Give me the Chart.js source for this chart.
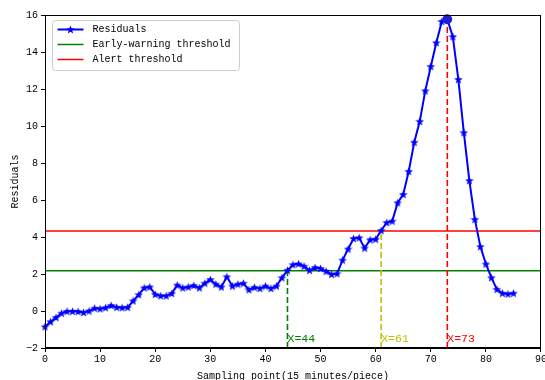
<!DOCTYPE html>
<html>
<head>
<meta charset="utf-8">
<script src="https://cdn.jsdelivr.net/npm/chart.js@4/dist/chart.umd.min.js"></script>
<style>
  html, body { margin: 0; padding: 0; background: #fff; overflow: hidden; }
  #wrap { width: 545px; height: 380px; overflow: hidden; }
</style>
</head>
<body>
<div id="wrap"><canvas id="chart" width="548" height="380"></canvas></div>
<script>
// Residual of each sampling point (one point every 15 minutes)
const residuals = [
  -0.85, -0.58, -0.35, -0.12, -0.02, -0.02, -0.03, -0.08, 0.00, 0.15,
   0.12,  0.18,  0.30,  0.20,  0.18,  0.20,  0.55,  0.88, 1.25, 1.30,
   0.90,  0.82,  0.82,  0.95,  1.40,  1.25,  1.30,  1.38, 1.25, 1.50,
   1.70,  1.45,  1.30,  1.85,  1.35,  1.45,  1.50,  1.15, 1.28, 1.22,
   1.35,  1.22,  1.35,  1.80,  2.20,  2.50,  2.55,  2.42, 2.20, 2.35,
   2.30,  2.15,  1.98,  2.02,  2.75,  3.35,  3.92,  3.96, 3.40, 3.85,
   3.88,  4.35,  4.78,  4.86,  5.85,  6.30,  7.55,  9.12, 10.25, 11.90,
  13.22, 14.50, 15.65, 15.77, 14.83, 12.52,  9.64,  7.05, 4.95, 3.48,
   2.54,  1.80,  1.17,  0.96,  0.92,  0.96
];
const samplePoints = residuals.map((_, i) => i);

// Threshold levels
const earlyWarningThreshold = 2.18;
const alertThreshold = 4.33;

// Marked sampling points: early warning, alert, peak
const markedPoints = [44, 61, 73];
const markedLabels = ['X=44', 'X=61', 'X=73'];
const markedColors = ['#008000', '#bfbf00', '#ff0000'];

// Axis ranges and tick steps
const xRange = [0, 90];
const yRange = [-2, 16];
const xStep = 10;
const yStep = 2;

// Filled five-pointed star used as the residual marker
function makeStar(size, color) {
  const c = document.createElement('canvas');
  c.width = size; c.height = size;
  const g = c.getContext('2d');
  const cx = size / 2, cy = size / 2 + 0.4, R = size / 2, r = R * 0.42;
  g.beginPath();
  for (let k = 0; k < 10; k++) {
    const rad = k % 2 === 0 ? R : r;
    const a = -Math.PI / 2 + k * Math.PI / 5;
    const px = cx + rad * Math.cos(a), py = cy + rad * Math.sin(a);
    k === 0 ? g.moveTo(px, py) : g.lineTo(px, py);
  }
  g.closePath();
  g.fillStyle = color;
  g.fill();
  return c;
}
const starMarker = makeStar(9, '#0000ff');

const FONT = '"Liberation Mono", "DejaVu Sans Mono", monospace';

const residualData = samplePoints.map(i => ({ x: i, y: residuals[i] }));
const peakIndex = markedPoints[2];

const datasets = [
  {
    label: 'Residuals',
    data: residualData,
    borderColor: '#0000ff',
    backgroundColor: '#0000ff',
    borderWidth: 2,
    pointStyle: starMarker,
    pointRadius: 4,
    tension: 0,
    clip: false,
    legend: { marker: true },
    order: 1
  },
  {
    label: 'Early-warning threshold',
    data: [{ x: xRange[0], y: earlyWarningThreshold }, { x: xRange[1], y: earlyWarningThreshold }],
    borderColor: '#008000',
    borderWidth: 1.5,
    pointRadius: 0,
    legend: { marker: false },
    order: 3
  },
  {
    label: 'Alert threshold',
    data: [{ x: xRange[0], y: alertThreshold }, { x: xRange[1], y: alertThreshold }],
    borderColor: '#ff0000',
    borderWidth: 1.5,
    pointRadius: 0,
    legend: { marker: false },
    order: 3
  },
  {
    label: 'peak',
    data: [{ x: peakIndex, y: residuals[peakIndex] }],
    borderColor: '#2020d0',
    backgroundColor: '#2020d0',
    pointRadius: 4.5,
    showLine: false,
    clip: false,
    order: 0
  }
];

// Dashed drop lines from the marked residuals to the bottom axis
markedPoints.forEach((p, k) => {
  datasets.push({
    label: markedLabels[k],
    data: [{ x: p, y: yRange[0] }, { x: p, y: residuals[p] }],
    borderColor: markedColors[k],
    borderWidth: 1.6,
    borderDash: [6, 3],
    pointRadius: 0,
    order: 2
  });
});

// Box frame, annotations, axis titles and legend
const decorations = {
  id: 'decorations',
  afterDraw(chart) {
    const { ctx, chartArea: a, scales } = chart;
    const xs = scales.x, ys = scales.y;
    ctx.save();

    // frame
    ctx.strokeStyle = '#000';
    ctx.lineWidth = 1;
    ctx.strokeRect(a.left + 0.5, a.top + 0.5, a.right - a.left - 1, a.bottom - a.top - 1);

    // marked point labels
    ctx.font = '11.5px ' + FONT;
    ctx.textBaseline = 'middle';
    ctx.textAlign = 'left';
    markedPoints.forEach((p, k) => {
      ctx.fillStyle = markedColors[k];
      ctx.fillText(markedLabels[k], xs.getPixelForValue(p), ys.getPixelForValue(-1.52));
    });

    // axis titles
    ctx.fillStyle = '#000';
    ctx.font = '10px ' + FONT;
    ctx.textAlign = 'center';
    ctx.textBaseline = 'top';
    ctx.fillText('Sampling point(15 minutes/piece)', (a.left + a.right) / 2, 371);
    ctx.save();
    ctx.translate(15, (a.top + a.bottom) / 2);
    ctx.rotate(-Math.PI / 2);
    ctx.textBaseline = 'middle';
    ctx.fillText('Residuals', 0, 0);
    ctx.restore();

    // legend
    const entries = chart.data.datasets.filter(d => d.legend);
    const bx = a.left + 7.5, by = a.top + 5.5, bw = 187, bh = 50;
    ctx.beginPath();
    ctx.roundRect(bx, by, bw, bh, 3);
    ctx.fillStyle = 'rgba(255,255,255,0.85)';
    ctx.fill();
    ctx.strokeStyle = '#cccccc';
    ctx.lineWidth = 1;
    ctx.stroke();
    entries.forEach((d, k) => {
      const ly = by + 9 + k * 15;
      ctx.beginPath();
      ctx.moveTo(bx + 5, ly);
      ctx.lineTo(bx + 31, ly);
      ctx.strokeStyle = d.borderColor;
      ctx.lineWidth = d.borderWidth;
      ctx.stroke();
      if (d.legend.marker) {
        ctx.drawImage(starMarker, bx + 18 - 4.5, ly - 4.5);
      }
      ctx.fillStyle = '#000';
      ctx.font = '10px ' + FONT;
      ctx.textAlign = 'left';
      ctx.textBaseline = 'middle';
      ctx.fillText(d.label, bx + 40, ly);
    });
    ctx.restore();
  }
};

new Chart(document.getElementById('chart'), {
  type: 'line',
  data: { datasets },
  options: {
    responsive: false,
    animation: false,
    events: [],
    layout: { padding: { top: 15, right: 0, left: 0, bottom: 0 } },
    plugins: { legend: { display: false }, tooltip: { enabled: false } },
    scales: {
      x: {
        type: 'linear',
        min: xRange[0], max: xRange[1],
        afterFit(s) { s.height = 32; },
        ticks: {
          stepSize: xStep,
          color: '#000',
          padding: 1,
          maxRotation: 0,
          font: { family: FONT, size: 10 }
        },
        grid: { drawOnChartArea: false, drawTicks: true, tickLength: 4, color: '#000' },
        border: { display: true, color: '#000' }
      },
      y: {
        type: 'linear',
        min: yRange[0], max: yRange[1],
        afterFit(s) { s.width = 45; },
        ticks: {
          stepSize: yStep,
          color: '#000',
          padding: 3,
          font: { family: FONT, size: 10 },
          callback: v => String(v).replace('-', '\u2212')
        },
        grid: { drawOnChartArea: false, drawTicks: true, tickLength: 4, color: '#000' },
        border: { display: true, color: '#000' }
      }
    }
  },
  plugins: [decorations]
});
</script>
</body>
</html>
